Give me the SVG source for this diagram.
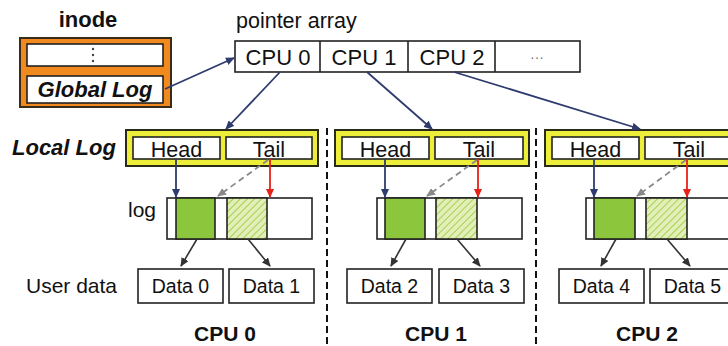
<svg xmlns="http://www.w3.org/2000/svg" width="728" height="346" viewBox="0 0 728 346">
<style>
text{font-family:"Liberation Sans",Arial,sans-serif;fill:#111}
.b{font-weight:bold}
.bi{font-weight:bold;font-style:italic}
.box{fill:#fff;stroke:#222;stroke-width:1.6}
.yel{fill:#ecee3a;stroke:#2a2a1a;stroke-width:2}
.org{fill:#f08a1e;stroke:#3a2a1a;stroke-width:2}
.g{fill:#8cc63c;stroke:#222;stroke-width:1.6}
.h{fill:url(#hatch);stroke:#222;stroke-width:1.6}
.sep{stroke:#111;stroke-width:2;stroke-dasharray:7 4}
.nv{stroke:#2e3b6e;stroke-width:1.8;fill:none}
.rd{stroke:#e8201a;stroke-width:1.8;fill:none}
.gy{stroke:#888;stroke-width:1.8;stroke-dasharray:6 4;fill:none}
.dk{stroke:#333;stroke-width:1.6;fill:none}
</style>
<defs>
<pattern id="hatch" patternUnits="userSpaceOnUse" width="5" height="5" patternTransform="rotate(45)">
<rect width="5" height="5" fill="#e2efb8"/>
<line x1="0" y1="0" x2="0" y2="5" stroke="#a6cf4e" stroke-width="2"/>
</pattern>
<marker id="aN" markerUnits="userSpaceOnUse" markerWidth="9" markerHeight="8" refX="8" refY="4" orient="auto"><path d="M0,0 L9,4 L0,8 z" fill="#2e3b6e"/></marker>
<marker id="aR" markerUnits="userSpaceOnUse" markerWidth="9" markerHeight="8" refX="8" refY="4" orient="auto"><path d="M0,0 L9,4 L0,8 z" fill="#e8201a"/></marker>
<marker id="aG" markerUnits="userSpaceOnUse" markerWidth="9" markerHeight="8" refX="8" refY="4" orient="auto"><path d="M0,0 L9,4 L0,8 z" fill="#888"/></marker>
<marker id="aD" markerUnits="userSpaceOnUse" markerWidth="9" markerHeight="8" refX="8" refY="4" orient="auto"><path d="M0,0 L9,4 L0,8 z" fill="#333"/></marker>
</defs>
<rect width="728" height="346" fill="#fff"/>

<g id="inode">
<text class="b" x="88" y="27" font-size="22" text-anchor="middle">inode</text>
<rect class="org" x="20" y="38" width="151" height="69"/>
<rect class="box" x="27" y="44" width="136" height="22"/>
<circle cx="93" cy="49" r="1.2" fill="#444"/><circle cx="93" cy="55" r="1.2" fill="#444"/><circle cx="93" cy="61" r="1.2" fill="#444"/>
<rect class="box" x="27" y="76" width="136" height="27"/>
<text class="bi" x="95" y="97" font-size="22" text-anchor="middle">Global Log</text>
</g>

<g id="pointer-array">
<text x="236" y="28" font-size="21.5">pointer array</text>
<rect class="box" x="235" y="41" width="345" height="31"/>
<line x1="320" y1="41" x2="320" y2="72" stroke="#222" stroke-width="1.6"/>
<line x1="408" y1="41" x2="408" y2="72" stroke="#222" stroke-width="1.6"/>
<line x1="495" y1="41" x2="495" y2="72" stroke="#222" stroke-width="1.6"/>
<text x="278" y="65" font-size="22" text-anchor="middle">CPU 0</text>
<text x="364" y="65" font-size="22" text-anchor="middle">CPU 1</text>
<text x="452" y="65" font-size="22" text-anchor="middle">CPU 2</text>
<text x="537" y="62" font-size="14" text-anchor="middle" style="fill:#777">···</text>
</g>

<g id="local-log-label"><text class="bi" x="12" y="155" font-size="22">Local Log</text></g>
<g id="log-label"><text x="128" y="217" font-size="21">log</text></g>
<g id="user-data-label"><text x="26" y="293" font-size="21">User data</text></g>

<g id="cpu0">
<rect class="yel" x="126" y="130" width="192" height="36"/>
<rect class="box" x="133" y="137" width="87" height="22"/>
<rect class="box" x="226" y="137" width="86" height="22"/>
<text x="176.5" y="157" font-size="21.5" text-anchor="middle">Head</text>
<text x="269" y="157" font-size="21.5" text-anchor="middle">Tail</text>
<rect class="box" x="167" y="198" width="145" height="41"/>
<rect class="g" x="176" y="198" width="39" height="41"/>
<rect class="h" x="227" y="198" width="40" height="41"/>
<rect class="box" x="138" y="269" width="85" height="34"/>
<text x="180.5" y="293" font-size="19.5" text-anchor="middle">Data 0</text>
<rect class="box" x="229" y="269" width="85" height="34"/>
<text x="271.5" y="293" font-size="19.5" text-anchor="middle">Data 1</text>
<text class="b" x="225" y="341" font-size="21" text-anchor="middle">CPU 0</text>
</g>

<g id="cpu1">
<rect class="yel" x="335" y="130" width="194" height="36"/>
<rect class="box" x="342" y="137" width="87" height="22"/>
<rect class="box" x="435" y="137" width="88" height="22"/>
<text x="385.5" y="157" font-size="21.5" text-anchor="middle">Head</text>
<text x="479" y="157" font-size="21.5" text-anchor="middle">Tail</text>
<rect class="box" x="377" y="198" width="145" height="41"/>
<rect class="g" x="385" y="198" width="40" height="41"/>
<rect class="h" x="436" y="198" width="41" height="41"/>
<rect class="box" x="347" y="269" width="85" height="34"/>
<text x="389.5" y="293" font-size="19.5" text-anchor="middle">Data 2</text>
<rect class="box" x="439" y="269" width="85" height="34"/>
<text x="481.5" y="293" font-size="19.5" text-anchor="middle">Data 3</text>
<text class="b" x="436" y="341" font-size="21" text-anchor="middle">CPU 1</text>
</g>

<g id="cpu2">
<rect class="yel" x="545" y="130" width="200" height="36"/>
<rect class="box" x="552" y="137" width="87" height="22"/>
<rect class="box" x="645" y="137" width="95" height="22"/>
<text x="595.5" y="157" font-size="21.5" text-anchor="middle">Head</text>
<text x="689" y="157" font-size="21.5" text-anchor="middle">Tail</text>
<rect class="box" x="586" y="198" width="160" height="41"/>
<rect class="g" x="594" y="198" width="41" height="41"/>
<rect class="h" x="646" y="198" width="41" height="41"/>
<rect class="box" x="559" y="269" width="85" height="34"/>
<text x="601.5" y="293" font-size="19.5" text-anchor="middle">Data 4</text>
<rect class="box" x="650" y="269" width="85" height="34"/>
<text x="692.5" y="293" font-size="19.5" text-anchor="middle">Data 5</text>
<text class="b" x="647" y="341" font-size="21" text-anchor="middle">CPU 2</text>
</g>

<g id="separators">
<line class="sep" x1="327" y1="128" x2="327" y2="346"/>
<line class="sep" x1="536" y1="128" x2="536" y2="346"/>
</g>

<g id="connectors">
<line class="nv" x1="165" y1="89" x2="234" y2="58" marker-end="url(#aN)"/>
<line class="nv" x1="280" y1="72" x2="226" y2="129" marker-end="url(#aN)"/>
<line class="nv" x1="367" y1="72" x2="432" y2="129" marker-end="url(#aN)"/>
<line class="nv" x1="454" y1="72" x2="640" y2="129" marker-end="url(#aN)"/>

<line class="nv" x1="176" y1="159" x2="176" y2="197" marker-end="url(#aN)"/>
<line class="rd" x1="270" y1="159" x2="270" y2="197" marker-end="url(#aR)"/>
<line class="gy" x1="268" y1="160" x2="218" y2="196" marker-end="url(#aG)"/>
<line class="dk" x1="197" y1="239" x2="181" y2="266" marker-end="url(#aD)"/>
<line class="dk" x1="248" y1="239" x2="270" y2="266" marker-end="url(#aD)"/>

<line class="nv" x1="385" y1="159" x2="385" y2="197" marker-end="url(#aN)"/>
<line class="rd" x1="478" y1="159" x2="478" y2="197" marker-end="url(#aR)"/>
<line class="gy" x1="477" y1="160" x2="427" y2="196" marker-end="url(#aG)"/>
<line class="dk" x1="406" y1="239" x2="391" y2="266" marker-end="url(#aD)"/>
<line class="dk" x1="457" y1="239" x2="480" y2="266" marker-end="url(#aD)"/>

<line class="nv" x1="594" y1="159" x2="594" y2="197" marker-end="url(#aN)"/>
<line class="rd" x1="687" y1="159" x2="687" y2="197" marker-end="url(#aR)"/>
<line class="gy" x1="686" y1="160" x2="637" y2="196" marker-end="url(#aG)"/>
<line class="dk" x1="616" y1="239" x2="601" y2="266" marker-end="url(#aD)"/>
<line class="dk" x1="667" y1="239" x2="690" y2="266" marker-end="url(#aD)"/>
</g>
</svg>
